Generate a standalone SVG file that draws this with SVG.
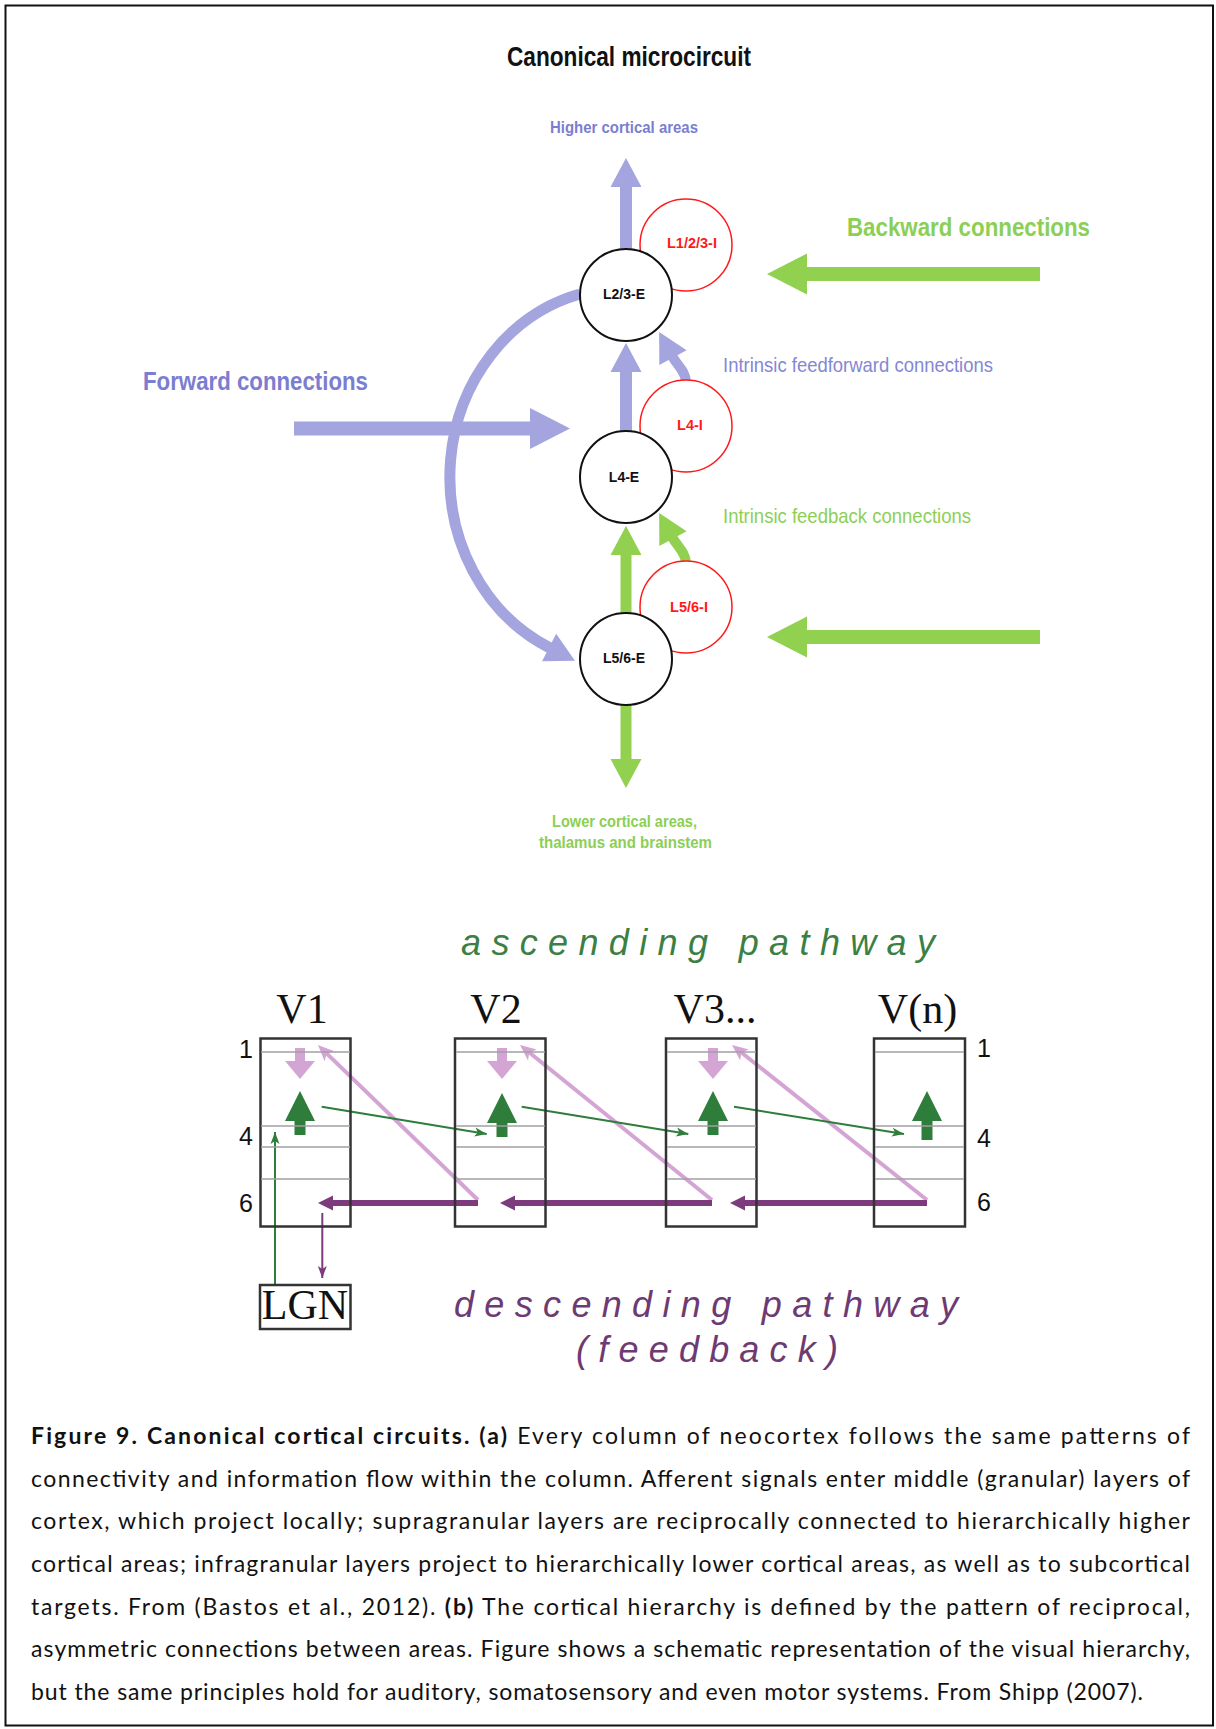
<svg xmlns="http://www.w3.org/2000/svg" width="1216" height="1729" viewBox="0 0 1216 1729">
<style>
.bg{fill:#fff}
.frame{fill:none;stroke:#111;stroke-width:2}
.ce{fill:#fff;stroke:#111;stroke-width:2}
.ci{fill:#fff;stroke:#ff1a1a;stroke-width:1.5}
.le{font-family:"Liberation Sans",Arial,sans-serif;font-weight:bold;font-size:14px;fill:#111;text-anchor:middle}
.li{font-family:"Liberation Sans",Arial,sans-serif;font-weight:bold;font-size:14.5px;fill:#ff1a1a;text-anchor:middle}
.hd{font-family:"Liberation Sans",Arial,sans-serif;font-weight:bold;text-anchor:middle}
.it{font-family:"Liberation Sans",Arial,sans-serif;font-size:21px}
.pa{fill:none;stroke:#a4a4de}
.ga{fill:none;stroke:#92d050}
.box{fill:none;stroke:#333;stroke-width:2.5}
.lay{stroke:#a0a0a0;stroke-width:1.5}
.vl{font-family:"Liberation Serif","Times New Roman",serif;font-size:42px;fill:#111;text-anchor:middle}
.num{font-family:"Liberation Sans",Arial,sans-serif;font-size:25px;fill:#111;text-anchor:middle}
.path{font-family:"Liberation Sans",Arial,sans-serif;font-style:italic;font-size:36px}
.cap{font-family:Lato,"Liberation Sans",sans-serif;font-size:23px;fill:#111}
.b{font-weight:bold}
</style>
<defs>
<marker id="hMp" markerUnits="userSpaceOnUse" markerWidth="40" markerHeight="40" refX="1" refY="15.5" orient="auto" overflow="visible"><path d="M0,0 L29,15.5 L0,31 z" fill="#a4a4de"/></marker>
<marker id="hMg" markerUnits="userSpaceOnUse" markerWidth="40" markerHeight="40" refX="1" refY="15.5" orient="auto" overflow="visible"><path d="M0,0 L29,15.5 L0,31 z" fill="#92d050"/></marker>
<marker id="hLp" markerUnits="userSpaceOnUse" markerWidth="50" markerHeight="50" refX="1" refY="20.5" orient="auto" overflow="visible"><path d="M0,0 L40,20.5 L0,41 z" fill="#a4a4de"/></marker>
<marker id="hLg" markerUnits="userSpaceOnUse" markerWidth="50" markerHeight="50" refX="1" refY="20.5" orient="auto" overflow="visible"><path d="M0,0 L40,20.5 L0,41 z" fill="#92d050"/></marker>
<marker id="hPk" markerUnits="userSpaceOnUse" markerWidth="30" markerHeight="30" refX="1" refY="15" orient="auto" overflow="visible"><path d="M0,0 L18,15 L0,30 z" fill="#d4a5d4"/></marker>
<marker id="hGu" markerUnits="userSpaceOnUse" markerWidth="40" markerHeight="40" refX="1" refY="15" orient="auto" overflow="visible"><path d="M0,0 L30,15 L0,30 z" fill="#2e7d3b"/></marker>
<marker id="hTg" markerUnits="userSpaceOnUse" markerWidth="20" markerHeight="20" refX="12" refY="4.5" orient="auto" overflow="visible"><path d="M0,0 L12,4.5 L0,9 L3,4.5 z" fill="#2e7d3b"/></marker>
<marker id="hTp" markerUnits="userSpaceOnUse" markerWidth="20" markerHeight="20" refX="12" refY="4.5" orient="auto" overflow="visible"><path d="M0,0 L12,4.5 L0,9 L3,4.5 z" fill="#7b3b7d"/></marker>
<marker id="hDp" markerUnits="userSpaceOnUse" markerWidth="20" markerHeight="20" refX="1" refY="7.5" orient="auto" overflow="visible"><path d="M0,0 L15,7.5 L0,15 z" fill="#7b3b7d"/></marker>
<marker id="hPd" markerUnits="userSpaceOnUse" markerWidth="20" markerHeight="20" refX="4" refY="7" orient="auto" overflow="visible"><path d="M0,0 L16,7 L0,14 L4,7 z" fill="#d4a5d4"/></marker>
</defs>
<rect class="bg" x="0" y="0" width="1216" height="1729"/>
<rect class="frame" x="5.5" y="5.5" width="1207.5" height="1720"/>

<text class="hd" x="629" y="66" font-size="27" fill="#111" textLength="244" lengthAdjust="spacingAndGlyphs">Canonical microcircuit</text>
<text class="hd" x="624" y="133" font-size="17" fill="#7b7ed0" textLength="148" lengthAdjust="spacingAndGlyphs">Higher cortical areas</text>
<text class="hd" x="255.5" y="390" font-size="26" fill="#7b7ed0" textLength="225" lengthAdjust="spacingAndGlyphs">Forward connections</text>
<text class="hd" x="968.5" y="236" font-size="26" fill="#8ccf55" textLength="243" lengthAdjust="spacingAndGlyphs">Backward connections</text>
<text class="it" x="723" y="372" fill="#8487d4" textLength="270" lengthAdjust="spacingAndGlyphs">Intrinsic feedforward connections</text>
<text class="it" x="723" y="523" fill="#8ccf55" textLength="248" lengthAdjust="spacingAndGlyphs">Intrinsic feedback connections</text>
<text class="hd" x="624.5" y="827" font-size="17" fill="#8ccf55" textLength="145" lengthAdjust="spacingAndGlyphs">Lower cortical areas,</text>
<text class="hd" x="625.5" y="848" font-size="17" fill="#8ccf55" textLength="173" lengthAdjust="spacingAndGlyphs">thalamus and brainstem</text>

<g id="connectors">
<path class="pa" stroke-width="12" d="M626,250 V186" marker-end="url(#hMp)"/>
<path class="pa" stroke-width="12" d="M626,432 V371" marker-end="url(#hMp)"/>
<path class="pa" stroke-width="10" d="M686,382 C686,372 677,365 672.5,356.7" marker-end="url(#hMp)"/>
<path class="pa" stroke-width="11" d="M580,294 A174,189 0 0 0 550,648" marker-end="url(#hMp)"/>
<path class="pa" stroke-width="14" d="M294,428.5 H531" marker-end="url(#hLp)"/>
<path class="ga" stroke-width="11" d="M626,614 V554" marker-end="url(#hMg)"/>
<path class="ga" stroke-width="10" d="M686,563 C686,553 677,546 672.5,537.7" marker-end="url(#hMg)"/>
<path class="ga" stroke-width="11" d="M626,704 V760" marker-end="url(#hMg)"/>
<path class="ga" stroke-width="14" d="M1040,274 H806" marker-end="url(#hLg)"/>
<path class="ga" stroke-width="14" d="M1040,637 H806" marker-end="url(#hLg)"/>

<g id="hier-connectors">
<path fill="none" stroke="#d4a5d4" stroke-width="4" d="M478,1200 L326.6,1053.4" marker-end="url(#hPd)"/>
<path fill="none" stroke="#d4a5d4" stroke-width="4" d="M712,1200 L529.3,1052.5" marker-end="url(#hPd)"/>
<path fill="none" stroke="#d4a5d4" stroke-width="4" d="M927,1200 L741.4,1052.5" marker-end="url(#hPd)"/>
<path fill="none" stroke="#d4a5d4" stroke-width="10" d="M300,1048 V1062" marker-end="url(#hPk)"/>
<path fill="none" stroke="#d4a5d4" stroke-width="10" d="M502,1048 V1062" marker-end="url(#hPk)"/>
<path fill="none" stroke="#d4a5d4" stroke-width="10" d="M713,1048 V1062" marker-end="url(#hPk)"/>
<path fill="none" stroke="#2e7d3b" stroke-width="11" d="M300,1135 V1120" marker-end="url(#hGu)"/>
<path fill="none" stroke="#2e7d3b" stroke-width="11" d="M502,1137 V1122" marker-end="url(#hGu)"/>
<path fill="none" stroke="#2e7d3b" stroke-width="11" d="M713,1135 V1120" marker-end="url(#hGu)"/>
<path fill="none" stroke="#2e7d3b" stroke-width="11" d="M927,1140 V1120" marker-end="url(#hGu)"/>
<path fill="none" stroke="#2e7d3b" stroke-width="2" d="M321.7,1106.7 L486.7,1134" marker-end="url(#hTg)"/>
<path fill="none" stroke="#2e7d3b" stroke-width="2" d="M521.7,1106.7 L688.3,1134" marker-end="url(#hTg)"/>
<path fill="none" stroke="#2e7d3b" stroke-width="2" d="M734,1106.7 L904,1134" marker-end="url(#hTg)"/>
<path fill="none" stroke="#2e7d3b" stroke-width="2" d="M275,1284 V1132" marker-end="url(#hTg)"/>
<path fill="none" stroke="#7b3b7d" stroke-width="2" d="M322.3,1213 V1278" marker-end="url(#hTp)"/>
<path fill="none" stroke="#7b3b7d" stroke-width="6" d="M478,1203 H332" marker-end="url(#hDp)"/>
<path fill="none" stroke="#7b3b7d" stroke-width="6" d="M712,1203 H514" marker-end="url(#hDp)"/>
<path fill="none" stroke="#7b3b7d" stroke-width="6" d="M927,1203 H744" marker-end="url(#hDp)"/>
</g>
</g>

<g id="L1-2-3-I"><circle class="ci" cx="686" cy="245" r="46"/><text class="li" x="692" y="248">L1/2/3-I</text></g>
<g id="L4-I"><circle class="ci" cx="686" cy="426" r="46"/><text class="li" x="690" y="430">L4-I</text></g>
<g id="L5-6-I"><circle class="ci" cx="686" cy="607" r="46"/><text class="li" x="689" y="612">L5/6-I</text></g>
<g id="L2-3-E"><circle class="ce" cx="626" cy="295" r="46"/><text class="le" x="624" y="299">L2/3-E</text></g>
<g id="L4-E"><circle class="ce" cx="626" cy="477" r="46"/><text class="le" x="624" y="482">L4-E</text></g>
<g id="L5-6-E"><circle class="ce" cx="626" cy="659" r="46"/><text class="le" x="624" y="663">L5/6-E</text></g>

<text class="path" x="461" y="955" fill="#3c7f44" textLength="474" lengthAdjust="spacing">ascending pathway</text>
<text class="path" x="454" y="1317" fill="#6e3a73" textLength="504" lengthAdjust="spacing">descending pathway</text>
<text class="path" x="576" y="1362" fill="#6e3a73" textLength="262" lengthAdjust="spacing">(feedback)</text>

<g id="V1">
<rect class="box" x="260.5" y="1038.5" width="90" height="188"/>
<line class="lay" x1="261" y1="1052" x2="350" y2="1052"/><line class="lay" x1="261" y1="1126" x2="350" y2="1126"/><line class="lay" x1="261" y1="1147" x2="350" y2="1147"/><line class="lay" x1="261" y1="1179" x2="350" y2="1179"/>
<text class="vl" x="302" y="1023">V1</text>
</g>
<g id="V2">
<rect class="box" x="455" y="1038.5" width="90.5" height="188"/>
<line class="lay" x1="456" y1="1052" x2="545" y2="1052"/><line class="lay" x1="456" y1="1126" x2="545" y2="1126"/><line class="lay" x1="456" y1="1147" x2="545" y2="1147"/><line class="lay" x1="456" y1="1179" x2="545" y2="1179"/>
<text class="vl" x="496" y="1023">V2</text>
</g>
<g id="V3">
<rect class="box" x="666" y="1038.5" width="90.5" height="188"/>
<line class="lay" x1="667" y1="1052" x2="756" y2="1052"/><line class="lay" x1="667" y1="1126" x2="756" y2="1126"/><line class="lay" x1="667" y1="1147" x2="756" y2="1147"/><line class="lay" x1="667" y1="1179" x2="756" y2="1179"/>
<text class="vl" x="715" y="1023">V3...</text>
</g>
<g id="Vn">
<rect class="box" x="874" y="1038.5" width="91" height="188"/>
<line class="lay" x1="875" y1="1052" x2="964" y2="1052"/><line class="lay" x1="875" y1="1126" x2="964" y2="1126"/><line class="lay" x1="875" y1="1147" x2="964" y2="1147"/><line class="lay" x1="875" y1="1179" x2="964" y2="1179"/>
<text class="vl" x="917.5" y="1023">V(n)</text>
</g>
<g id="LGN">
<rect class="box" x="260" y="1285" width="90.5" height="44"/>
<text class="vl" x="305" y="1319" font-size="33">LGN</text>
</g>
<text class="num" x="246" y="1058">1</text>
<text class="num" x="246" y="1145">4</text>
<text class="num" x="246" y="1212">6</text>
<text class="num" x="984" y="1057">1</text>
<text class="num" x="984" y="1147">4</text>
<text class="num" x="984" y="1211">6</text>

<g id="caption">
<text class="cap" x="31" y="1444" textLength="1159" lengthAdjust="spacing"><tspan class="b">Figure 9. Canonical cortical circuits. (a)</tspan> Every column of neocortex follows the same patterns of</text>
<text class="cap" x="31" y="1486.5" textLength="1159" lengthAdjust="spacing">connectivity and information flow within the column. Afferent signals enter middle (granular) layers of</text>
<text class="cap" x="31" y="1529" textLength="1159" lengthAdjust="spacing">cortex, which project locally; supragranular layers are reciprocally connected to hierarchically higher</text>
<text class="cap" x="31" y="1572" textLength="1159" lengthAdjust="spacing">cortical areas; infragranular layers project to hierarchically lower cortical areas, as well as to subcortical</text>
<text class="cap" x="31" y="1614.5" textLength="1159" lengthAdjust="spacing">targets. From (Bastos et al., 2012). <tspan class="b">(b)</tspan> The cortical hierarchy is defined by the pattern of reciprocal,</text>
<text class="cap" x="31" y="1657" textLength="1159" lengthAdjust="spacing">asymmetric connections between areas. Figure shows a schematic representation of the visual hierarchy,</text>
<text class="cap" x="31" y="1700" textLength="1112" lengthAdjust="spacing">but the same principles hold for auditory, somatosensory and even motor systems. From Shipp (2007).</text>
</g>
</svg>
